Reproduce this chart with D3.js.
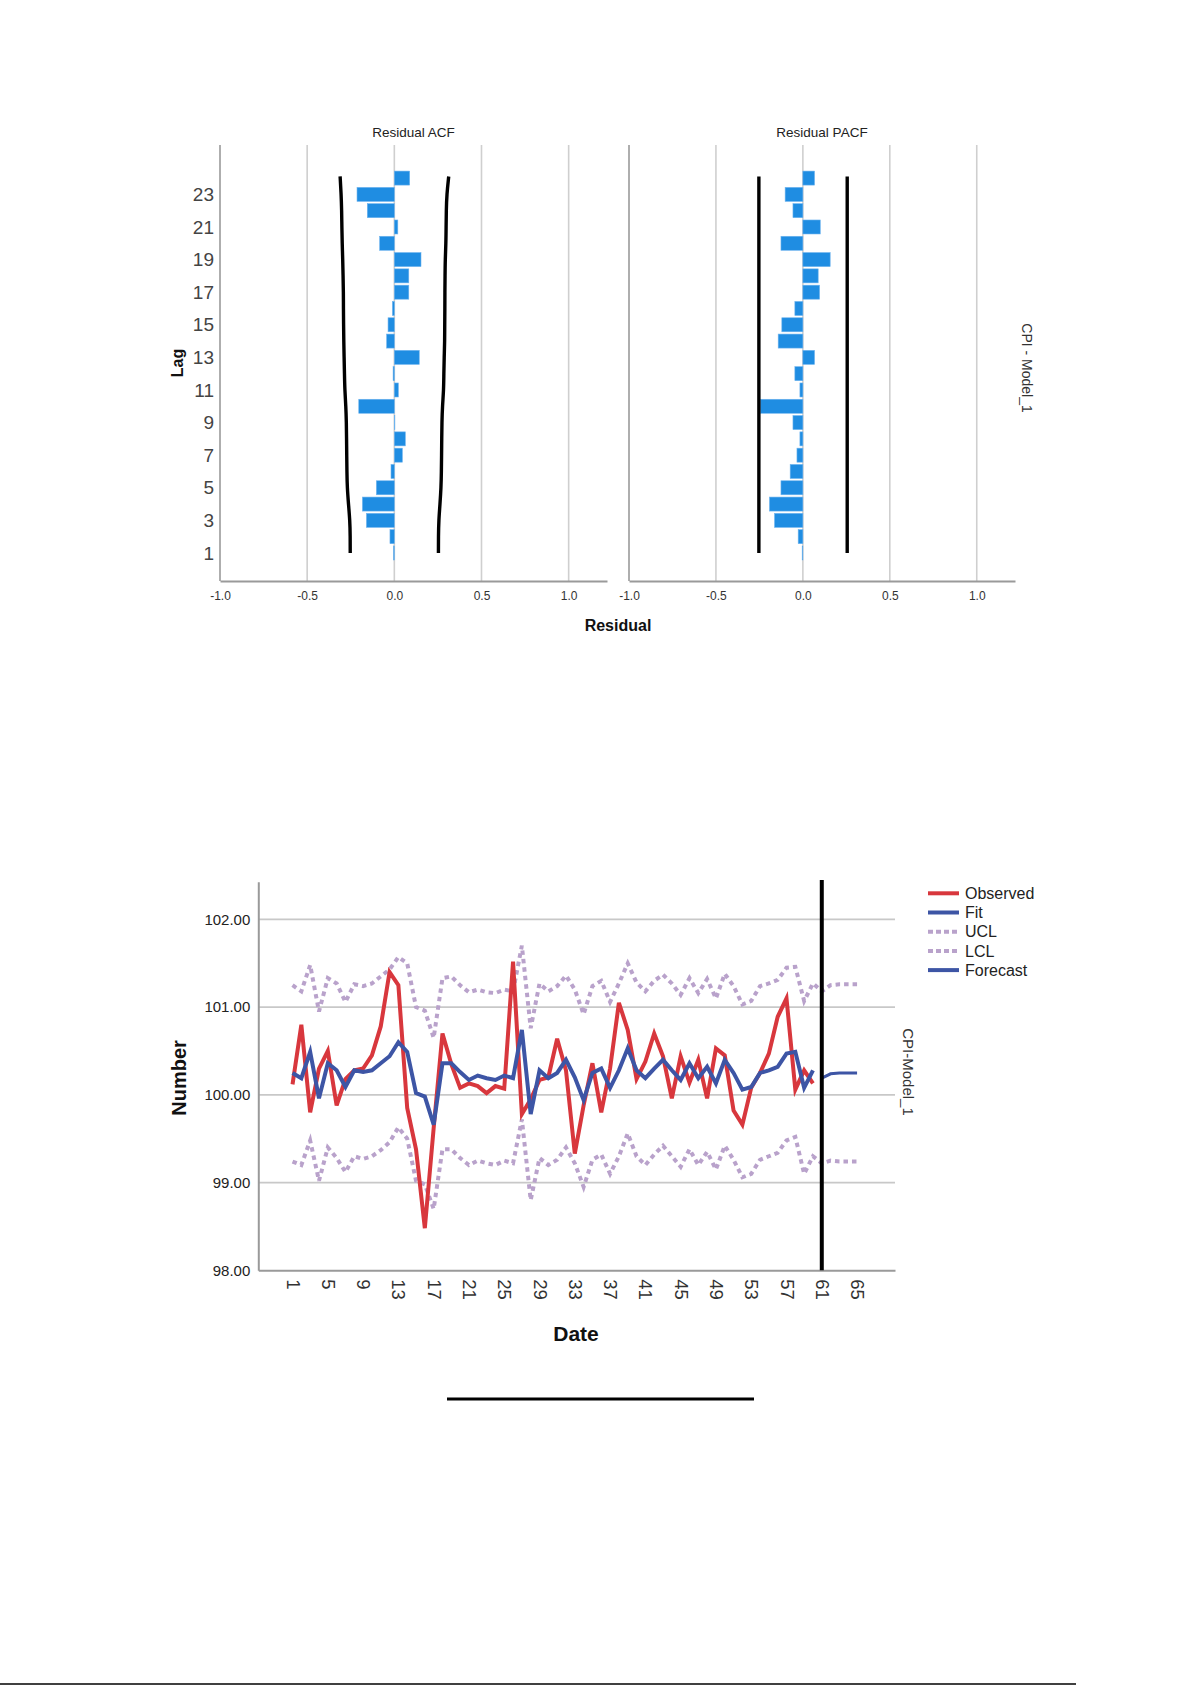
<!DOCTYPE html>
<html>
<head>
<meta charset="utf-8">
<script src="https://cdn.jsdelivr.net/npm/d3@7"></script>
<style>
  body { margin: 0; background: #fff; }
  svg text { font-family: "Liberation Sans", Arial, sans-serif; }
</style>
</head>
<body>
<div id="chart"></div>
<script>
// ---- residual ACF / PACF (lags 1..24) ----
var lags = [1,2,3,4,5,6,7,8,9,10,11,12,13,14,15,16,17,18,19,20,21,22,23,24];
var acf = [-0.005,-0.025,-0.160,-0.183,-0.103,-0.019,0.046,0.063,0.003,-0.204,0.023,-0.007,
           0.143,-0.044,-0.036,-0.011,0.083,0.083,0.153,-0.084,0.020,-0.155,-0.214,0.088];
var acfUpper = [0.253,0.253,0.255,0.262,0.268,0.270,0.271,0.272,0.273,0.276,0.283,0.284,
                0.286,0.289,0.289,0.290,0.290,0.291,0.292,0.296,0.297,0.298,0.301,0.312];
var acfLower = [-0.253,-0.253,-0.255,-0.263,-0.270,-0.272,-0.273,-0.274,-0.275,-0.278,-0.284,-0.286,
                -0.288,-0.290,-0.291,-0.292,-0.292,-0.294,-0.296,-0.299,-0.301,-0.302,-0.305,-0.311];
var pacf = [-0.004,-0.027,-0.163,-0.192,-0.126,-0.073,-0.034,-0.017,-0.057,-0.245,-0.017,-0.046,
            0.067,-0.142,-0.121,-0.046,0.096,0.088,0.157,-0.126,0.100,-0.057,-0.102,0.067];
var pacfUpper = [0.255,0.255];
var pacfLower = [-0.253,-0.253];
var lagTicks = [1,3,5,7,9,11,13,15,17,19,21,23];
var residTicks = [-1.0,-0.5,0.0,0.5,1.0];

// ---- CPI model: observed, fit, limits, forecast ----
var dates = [1,2,3,4,5,6,7,8,9,10,11,12,13,14,15,16,17,18,19,20,21,22,23,24,25,26,27,28,29,30,
             31,32,33,34,35,36,37,38,39,40,41,42,43,44,45,46,47,48,49,50,51,52,53,54,55,56,57,58,59,60,
             61,62,63,64,65];
var observed = [100.12,100.80,99.80,100.30,100.50,99.88,100.18,100.28,100.30,100.45,
                100.78,101.40,101.25,99.85,99.38,98.48,99.62,100.70,100.35,100.08,
                100.13,100.10,100.02,100.10,100.07,101.52,99.78,99.95,100.17,100.20,
                100.64,100.28,99.33,99.88,100.36,99.80,100.30,101.05,100.74,100.18,
                100.38,100.70,100.44,99.96,100.44,100.14,100.40,99.96,100.53,100.45,
                99.82,99.66,100.08,100.25,100.47,100.89,101.10,100.06,100.28,100.13];
var fit = [100.25,100.19,100.49,99.96,100.36,100.28,100.09,100.28,100.26,100.28,
           100.36,100.44,100.60,100.49,100.02,99.98,99.66,100.36,100.36,100.26,
           100.17,100.22,100.19,100.17,100.22,100.19,100.74,99.78,100.28,100.19,
           100.25,100.40,100.20,99.94,100.25,100.30,100.08,100.28,100.53,100.28,
           100.19,100.30,100.40,100.28,100.17,100.36,100.19,100.32,100.13,100.40,
           100.25,100.06,100.09,100.25,100.28,100.32,100.47,100.49,100.08,100.28];
var forecast = [100.19,100.24,100.25,100.25,100.25];
var ucl = [101.25,101.18,101.48,100.95,101.33,101.27,101.06,101.26,101.24,101.27,
           101.35,101.43,101.57,101.50,101.00,100.96,100.65,101.33,101.35,101.25,
           101.17,101.20,101.17,101.16,101.20,101.18,101.70,100.76,101.27,101.18,
           101.24,101.36,101.20,100.92,101.24,101.30,101.06,101.27,101.50,101.28,
           101.18,101.30,101.37,101.27,101.14,101.33,101.16,101.32,101.10,101.38,
           101.24,101.03,101.07,101.24,101.27,101.31,101.45,101.46,101.07,101.27,
           101.18,101.25,101.26,101.26,101.26];
var lcl = [99.24,99.20,99.48,99.02,99.40,99.28,99.12,99.30,99.27,99.30,
           99.37,99.46,99.63,99.50,99.02,98.98,98.70,99.38,99.38,99.28,
           99.20,99.25,99.22,99.20,99.25,99.22,99.72,98.80,99.28,99.20,
           99.26,99.40,99.22,98.95,99.26,99.32,99.10,99.30,99.56,99.30,
           99.20,99.32,99.42,99.30,99.18,99.38,99.20,99.35,99.15,99.42,
           99.26,99.06,99.10,99.26,99.30,99.34,99.48,99.52,99.10,99.30,
           99.22,99.25,99.24,99.24,99.24];
var dateTicks = [1,5,9,13,17,21,25,29,33,37,41,45,49,53,57,61,65];
var numberTicks = [98,99,100,101,102];
var forecastStart = 61;
var legendNames = ["Observed","Fit","UCL","LCL","Forecast"];

var svg = d3.select("#chart").append("svg")
    .attr("width", 1192)
    .attr("height", 1685);

// ================= top: ACF / PACF panels =================
var yLag = d3.scaleLinear().domain([-0.72, 26.03]).range([581, 145]);
var barH = 14;

function drawPanel(x0, x1, title, values, upper, lower, smooth) {
    var x = d3.scaleLinear().domain([-1, 1.22]).range([x0, x1]);
    var g = svg.append("g");

    // vertical grid lines
    g.selectAll(".grid").data(residTicks).enter().append("line")
        .attr("x1", d => x(d)).attr("x2", d => x(d))
        .attr("y1", 145).attr("y2", 581)
        .attr("stroke", d => d === -1 ? "#9a9a9a" : "#cfcfcf")
        .attr("stroke-width", 1.6);

    // bottom axis
    var ax = g.append("g")
        .attr("transform", "translate(0,581)")
        .call(d3.axisBottom(x).tickValues(residTicks).tickSize(0).tickPadding(10)
              .tickFormat(d => d.toFixed(1)));
    ax.select(".domain").attr("stroke", "#9a9a9a").attr("stroke-width", 2);
    ax.selectAll("text").attr("font-size", 12).attr("fill", "#333")
        .style("font-family", "'Liberation Sans', Arial, sans-serif");

    // bars
    g.selectAll(".bar").data(lags).enter().append("rect")
        .attr("x", (d, i) => Math.min(x(0), x(values[i])))
        .attr("width", (d, i) => Math.abs(x(values[i]) - x(0)))
        .attr("y", d => yLag(d) - barH / 2)
        .attr("height", barH)
        .attr("fill", "#1f8de2")
        .attr("stroke", "#6db3ee")
        .attr("stroke-width", 0.6);

    // confidence limits
    var limLags = smooth ? lags : [1, 24.1];
    var line = d3.line()
        .x(d => x(d[1]))
        .y(d => yLag(d[0]))
        .curve(smooth ? d3.curveBasis : d3.curveLinear);
    [upper, lower].forEach(function(arr) {
        var pts = limLags.map((l, i) => [l, arr[i]]);
        if (smooth) pts[pts.length - 1] = [24.1, arr[arr.length - 1]];
        g.append("path").datum(pts)
            .attr("d", line)
            .attr("fill", "none")
            .attr("stroke", "#000")
            .attr("stroke-width", 3.4);
    });

    g.append("text")
        .attr("x", (x0 + x1) / 2).attr("y", 137)
        .attr("text-anchor", "middle")
        .attr("font-size", 13.5).attr("fill", "#222")
        .text(title);
    return x;
}

drawPanel(220, 607, "Residual ACF", acf, acfUpper, acfLower, true);
drawPanel(629, 1015, "Residual PACF", pacf, pacfUpper, pacfLower, false);

// lag axis
var lagAx = svg.append("g")
    .attr("transform", "translate(220,0)")
    .call(d3.axisLeft(yLag).tickValues(lagTicks).tickSize(0).tickPadding(6));
lagAx.select(".domain").remove();
lagAx.selectAll("text").attr("font-size", 19).attr("fill", "#444")
    .style("font-family", "'Liberation Sans', Arial, sans-serif");

svg.append("text")
    .attr("transform", "translate(183,363) rotate(-90)")
    .attr("text-anchor", "middle")
    .attr("font-size", 16).attr("font-weight", "bold").attr("fill", "#111")
    .text("Lag");

svg.append("text")
    .attr("x", 618).attr("y", 631)
    .attr("text-anchor", "middle")
    .attr("font-size", 16).attr("font-weight", "bold").attr("fill", "#111")
    .text("Residual");

svg.append("text")
    .attr("transform", "translate(1022,368) rotate(90)")
    .attr("text-anchor", "middle")
    .attr("font-size", 14).attr("fill", "#333")
    .text("CPI - Model_1");

// ================= bottom: observed / fit / forecast =================
var xDate = d3.scaleLinear().domain([-2.88, 69.3]).range([258.3, 895]);
var yNum = d3.scaleLinear().domain([98, 102.43]).range([1270.3, 881.7]);

svg.selectAll(".hgrid").data(numberTicks.slice(1)).enter().append("line")
    .attr("x1", 258.3).attr("x2", 895)
    .attr("y1", d => yNum(d)).attr("y2", d => yNum(d))
    .attr("stroke", "#c8c8c8").attr("stroke-width", 1.6);

var yAx = svg.append("g")
    .attr("transform", "translate(258.3,0)")
    .call(d3.axisLeft(yNum).tickValues(numberTicks).tickSize(0).tickPadding(8)
          .tickFormat(d => d.toFixed(2)));
yAx.select(".domain").attr("stroke", "#9a9a9a").attr("stroke-width", 2);
yAx.selectAll("text").attr("font-size", 15).attr("fill", "#222")
    .style("font-family", "'Liberation Sans', Arial, sans-serif");

var xAx = svg.append("g")
    .attr("transform", "translate(0,1270.3)")
    .call(d3.axisBottom(xDate).tickValues(dateTicks).tickSize(0));
xAx.select(".domain").attr("stroke", "#9a9a9a").attr("stroke-width", 2);
xAx.selectAll("text")
    .attr("y", 0).attr("x", 9).attr("dy", "0.35em")
    .attr("transform", "rotate(90)")
    .style("text-anchor", "start")
    .attr("font-size", 18.5).attr("fill", "#333")
    .style("font-family", "'Liberation Sans', Arial, sans-serif");

var styles = {
    Observed: { color: "#d8373d", width: 4, dash: null },
    Fit:      { color: "#3d55a5", width: 4, dash: null },
    UCL:      { color: "#b9a2cb", width: 4, dash: "4.5,4" },
    LCL:      { color: "#b9a2cb", width: 4, dash: "4.5,4" },
    Forecast: { color: "#3d55a5", width: 3, dash: null }
};

var tsLine = d3.line().x(d => xDate(d[0])).y(d => yNum(d[1]));
var series = {
    UCL: dates.map((d, i) => [d, ucl[i]]),
    LCL: dates.map((d, i) => [d, lcl[i]]),
    Observed: observed.map((v, i) => [dates[i], v]),
    Fit: fit.map((v, i) => [dates[i], v]),
    Forecast: forecast.map((v, i) => [dates[observed.length + i], v])
};
["UCL", "LCL", "Observed", "Fit", "Forecast"].forEach(function(k) {
    var s = styles[k];
    svg.append("path").datum(series[k])
        .attr("d", tsLine)
        .attr("fill", "none")
        .attr("stroke", s.color)
        .attr("stroke-width", s.width)
        .attr("stroke-linejoin", "miter")
        .attr("stroke-dasharray", s.dash);
});

// forecast origin line
svg.append("line")
    .attr("x1", xDate(forecastStart)).attr("x2", xDate(forecastStart))
    .attr("y1", 880).attr("y2", 1270.3)
    .attr("stroke", "#000").attr("stroke-width", 4);

// legend
var leg = svg.append("g");
legendNames.forEach(function(name, i) {
    var s = styles[name];
    var ly = 893.3 + i * 19.2;
    leg.append("line")
        .attr("x1", 928).attr("x2", 959).attr("y1", ly).attr("y2", ly)
        .attr("stroke", s.color).attr("stroke-width", 4)
        .attr("stroke-dasharray", s.dash ? "5,3" : null);
    leg.append("text")
        .attr("x", 965).attr("y", ly).attr("dy", "0.35em")
        .attr("font-size", 16).attr("fill", "#222")
        .text(name);
});

svg.append("text")
    .attr("transform", "translate(903,1072) rotate(90)")
    .attr("text-anchor", "middle")
    .attr("font-size", 15).attr("fill", "#333")
    .text("CPI-Model_1");

svg.append("text")
    .attr("transform", "translate(186,1078) rotate(-90)")
    .attr("text-anchor", "middle")
    .attr("font-size", 20).attr("font-weight", "bold").attr("fill", "#111")
    .text("Number");

svg.append("text")
    .attr("x", 576).attr("y", 1341)
    .attr("text-anchor", "middle")
    .attr("font-size", 21).attr("font-weight", "bold").attr("fill", "#111")
    .text("Date");

// page rules
svg.append("line")
    .attr("x1", 447).attr("x2", 754).attr("y1", 1399).attr("y2", 1399)
    .attr("stroke", "#000").attr("stroke-width", 3);
svg.append("line")
    .attr("x1", 0).attr("x2", 1076).attr("y1", 1684).attr("y2", 1684)
    .attr("stroke", "#000").attr("stroke-width", 1.5);
</script>
</body>
</html>
